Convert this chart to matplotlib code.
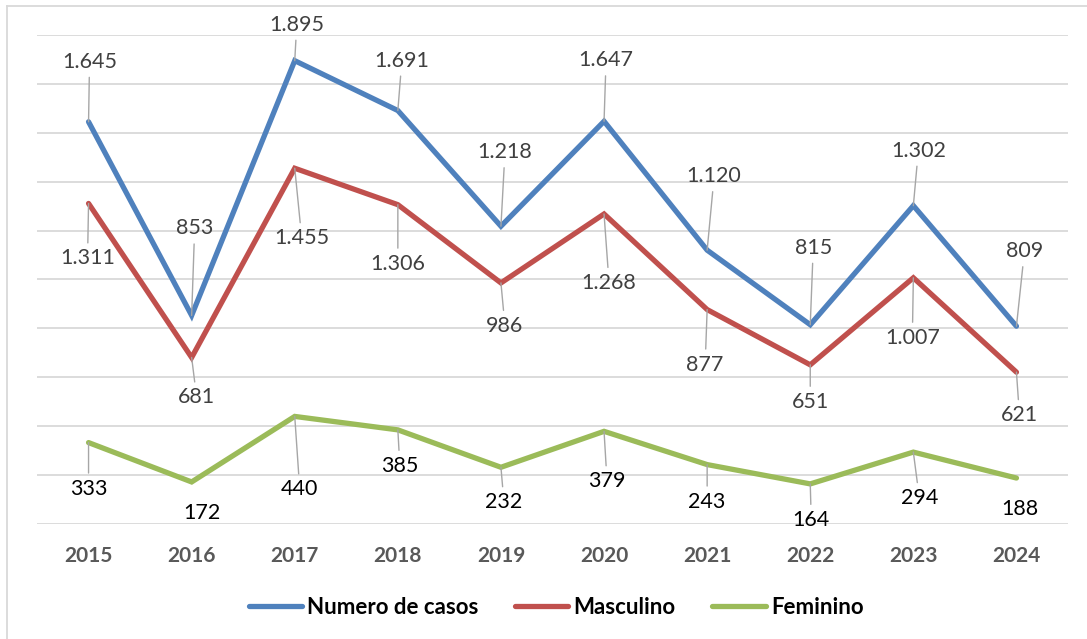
import matplotlib
matplotlib.use("Agg")
import matplotlib.pyplot as plt
from matplotlib.lines import Line2D

years = ["2015", "2016", "2017", "2018", "2019", "2020", "2021", "2022", "2023", "2024"]
numero = [1645, 853, 1895, 1691, 1218, 1647, 1120, 815, 1302, 809]
masculino = [1311, 681, 1455, 1306, 986, 1268, 877, 651, 1007, 621]
feminino = [333, 172, 440, 385, 232, 379, 243, 164, 294, 188]
series_names = ["Numero de casos", "Masculino", "Feminino"]

# label offsets in screen pixels (dx right, dy down) -- styling only
off_numero = [(1, -60), (3, -87), (2, -36), (4, -50), (4, -74), (2, -61), (7, -74), (3, -77), (5, -55), (8, -75)]
off_masc = [(-1, 55), (5, 40), (7, 70), (0, 59), (4, 43), (5, 69), (-2, 55), (0, 37), (-1, 60), (3, 43)]
off_fem = [(0, 46), (10, 31), (5, 73), (2, 36), (3, 35), (3, 50), (0, 37), (1, 36), (6, 46), (3, 31)]
lead_fem = [True, False, True, True, True, True, True, True, True, False]

colors = ["#4F81BD", "#C0504D", "#9BBB59"]
label_colors = ["#404040", "#404040", "#000000"]

plt.rcParams['font.family'] = ['Lato', 'DejaVu Sans']

W, H = 1087, 639
fig = plt.figure(figsize=(W / 100, H / 100), dpi=100)
ax = fig.add_axes([37 / W, 1 - 524 / H, (1068 - 37) / W, (524 - 35) / H])

x = list(range(len(years)))
all_series = [numero, masculino, feminino]
all_offs = [off_numero, off_masc, off_fem]
all_leads = [[True] * 10, [True] * 10, lead_fem]

for s, name, c in zip(all_series, series_names, colors):
    ax.plot(x, s, color=c, lw=3.8, solid_capstyle='round', solid_joinstyle='miter', label=name, zorder=2)

def fmt(v):
    return f"{v:,}".replace(",", ".")

for s, offs, leads, lc in zip(all_series, all_offs, all_leads, label_colors):
    for i, (v, (dx, dy), ld) in enumerate(zip(s, offs, leads)):
        kw = {}
        if ld:
            kw['arrowprops'] = dict(arrowstyle='-', color='#A6A6A6', lw=1.0, shrinkA=2, shrinkB=0)
        ax.annotate(fmt(v), xy=(i, v), xytext=(dx, -dy), textcoords='offset pixels',
                    ha='center', va='center', fontsize=15.5, color=lc, zorder=4, **kw)

ax.set_xlim(-0.5, len(years) - 0.5)
ax.set_ylim(0, 2000)
ax.set_yticks(range(0, 2001, 200))
ax.set_yticklabels([])
ax.tick_params(axis='y', length=0)
ax.set_xticks(x)
ax.set_xticklabels(years, fontsize=15, fontweight='bold', color='#595959')
ax.tick_params(axis='x', length=0, pad=16)
ax.grid(axis='y', color='#D9D9D9', lw=1.3, zorder=0)
ax.set_axisbelow(True)
for sp in ax.spines.values():
    sp.set_visible(False)

leg = fig.legend(loc='center', bbox_to_anchor=(556 / W, 1 - 607 / H), ncol=3, frameon=False,
                 prop={'size': 16, 'weight': 'bold'}, handlelength=2.4, handletextpad=0.23,
                 columnspacing=1.65)
for t in leg.get_texts():
    t.set_color('#000000')

# outer chart frame (left and top visible)
fig.add_artist(Line2D([7 / W, 7 / W], [0, 1 - 6 / H], transform=fig.transFigure, color='#D9D9D9', lw=1.3))
fig.add_artist(Line2D([7 / W, 1], [1 - 6 / H, 1 - 6 / H], transform=fig.transFigure, color='#D9D9D9', lw=1.3))

fig.savefig("out.png", dpi=100)
